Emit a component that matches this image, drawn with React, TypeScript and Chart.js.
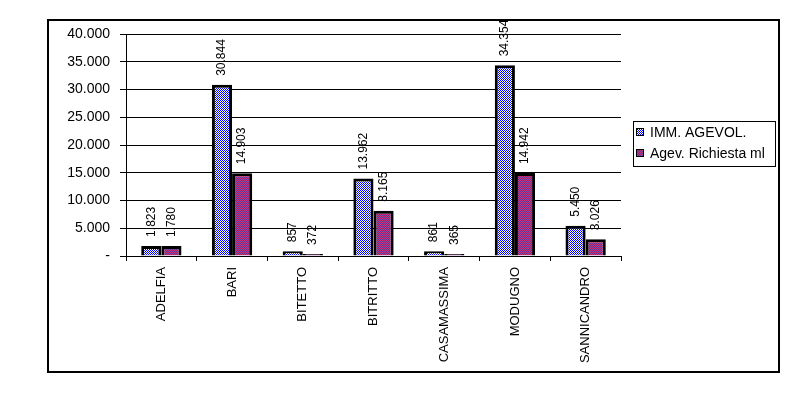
import React, { useEffect, useRef } from "react";
import { Chart, registerables } from "chart.js";

Chart.register(...registerables);

const categories = ["ADELFIA", "BARI", "BITETTO", "BITRITTO", "CASAMASSIMA", "MODUGNO", "SANNICANDRO"];
const seriesNames = ["IMM. AGEVOL.", "Agev. Richiesta ml"];
const immAgevol = [1823, 30844, 857, 13962, 861, 34354, 5450];
const agevRichiesta = [1780, 14903, 372, 8165, 365, 14942, 3026];
const yMin = 0;
const yMax = 40000;
const yStep = 5000;

const FONT = "'Liberation Sans', Arial, sans-serif";

function fmt(v: number): string {
  return String(Math.round(v)).replace(/\B(?=(\d{3})+(?!\d))/g, ".");
}

function makePattern(colors: string[][]): CanvasPattern | string {
  const c = document.createElement("canvas");
  c.width = colors[0].length;
  c.height = colors.length;
  const ctx = c.getContext("2d")!;
  for (let y = 0; y < colors.length; y++) {
    for (let x = 0; x < colors[y].length; x++) {
      ctx.fillStyle = colors[y][x];
      ctx.fillRect(x, y, 1, 1);
    }
  }
  const p = ctx.createPattern(c, "repeat");
  return p || colors[0][0];
}

export default function App() {
  const ref = useRef<HTMLCanvasElement | null>(null);

  useEffect(() => {
    if (!ref.current) return;
    const bluePat = makePattern([
      ["#0000ff", "#ffffff"],
      ["#ffffff", "#0000ff"],
    ]);
    const redPat = makePattern([
      ["#cc3377", "#663399"],
      ["#663399", "#cc3377"],
    ]);
    const patterns = [bluePat, redPat];

    const framePlugin = {
      id: "frame",
      beforeDraw(chart: any) {
        const ctx = chart.ctx;
        ctx.save();
        ctx.fillStyle = "#ffffff";
        ctx.fillRect(0, 0, chart.width, chart.height);
        ctx.restore();
      },
      afterDraw(chart: any) {
        const ctx = chart.ctx;
        ctx.save();
        ctx.strokeStyle = "#000000";
        ctx.lineWidth = 2;
        ctx.strokeRect(48, 20, 731, 352);
        // legend
        ctx.lineWidth = 1;
        ctx.strokeRect(633.5, 121.5, 142, 45);
        ctx.font = "14px " + FONT;
        ctx.textBaseline = "middle";
        ctx.textAlign = "left";
        const rows = [132, 153];
        seriesNames.forEach((name, i) => {
          const y = rows[i];
          ctx.fillStyle = patterns[i];
          ctx.fillRect(637, y - 3, 6, 6);
          ctx.strokeStyle = "#000";
          ctx.strokeRect(636.5, y - 3.5, 7, 7);
          ctx.fillStyle = "#000";
          ctx.fillText(name, 650, y + 1);
        });
        ctx.restore();
      },
    };

    const labelPlugin = {
      id: "barLabels",
      afterDatasetsDraw(chart: any) {
        const ctx = chart.ctx;
        ctx.save();
        ctx.font = "12px " + FONT;
        ctx.fillStyle = "#000";
        ctx.textAlign = "left";
        ctx.textBaseline = "middle";
        chart.data.datasets.forEach((ds: any, di: number) => {
          const meta = chart.getDatasetMeta(di);
          meta.data.forEach((el: any, i: number) => {
            ctx.save();
            ctx.translate(el.x, el.y - 9);
            ctx.rotate(-Math.PI / 2);
            ctx.fillText(fmt(ds.data[i]), 0, 0);
            ctx.restore();
          });
        });
        ctx.restore();
      },
    };

    const chart = new Chart(ref.current, {
      type: "bar",
      data: {
        labels: categories,
        datasets: [
          {
            label: seriesNames[0],
            data: immAgevol,
            backgroundColor: bluePat as any,
            borderColor: "#000000",
            borderWidth: 3,
          },
          {
            label: seriesNames[1],
            data: agevRichiesta,
            backgroundColor: redPat as any,
            borderColor: "#000000",
            borderWidth: 3,
          },
        ],
      },
      options: {
        responsive: false,
        animation: false,
        layout: { padding: { top: 34, right: 179, bottom: 0, left: 0 } },
        plugins: {
          legend: { display: false },
          tooltip: { enabled: false },
        },
        datasets: {
          bar: { categoryPercentage: 0.57, barPercentage: 1 },
        },
        scales: {
          x: {
            offset: true,
            grid: {
              display: true,
              drawOnChartArea: false,
              drawTicks: true,
              tickLength: 5,
              color: "#000",
              offset: true,
            },
            border: { display: true, color: "#000", width: 1 },
            ticks: {
              minRotation: 90,
              maxRotation: 90,
              autoSkip: false,
              padding: 6,
              color: "#000",
              font: { family: FONT, size: 13 },
            },
            afterFit(scale: any) {
              scale.height = 143;
            },
          },
          y: {
            min: yMin,
            max: yMax,
            ticks: {
              stepSize: yStep,
              padding: 10,
              color: "#000",
              font: { family: FONT, size: 14 },
              callback: (v: any) => (Number(v) === 0 ? "-" : fmt(Number(v))),
            },
            grid: {
              color: "#000",
              lineWidth: 1,
              drawTicks: true,
              tickLength: 6,
            },
            border: { display: true, color: "#000", width: 1 },
            afterFit(scale: any) {
              scale.width = 126;
            },
          },
        },
      },
      plugins: [framePlugin, labelPlugin],
    });
    return () => chart.destroy();
  }, []);

  return (
    <div style={{ position: "absolute", left: 0, top: 0, width: 800, height: 399, background: "#fff" }}>
      <canvas ref={ref} width={800} height={399} style={{ display: "block", width: 800, height: 399 }} />
    </div>
  );
}
